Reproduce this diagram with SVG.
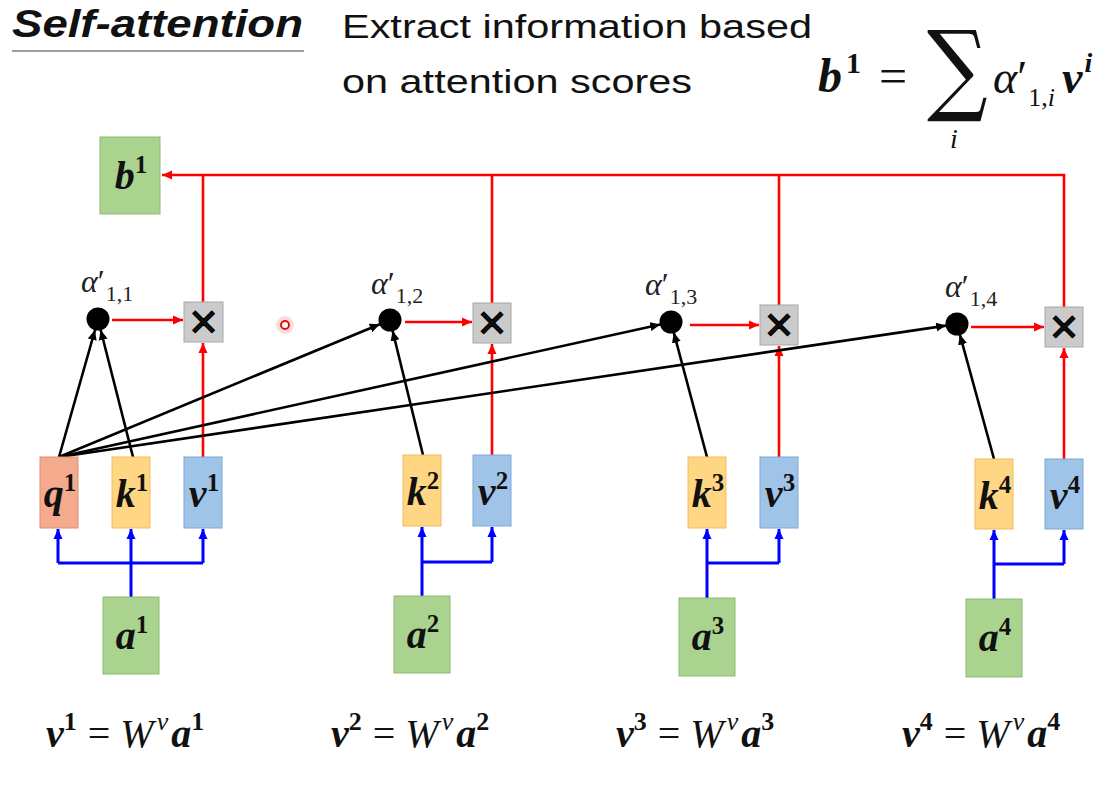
<svg xmlns="http://www.w3.org/2000/svg" width="1109" height="785" viewBox="0 0 1109 785">
<style>
text{font-family:"Liberation Serif","DejaVu Serif",serif;fill:#111}
.sans{font-family:"Liberation Sans","Open Sans",sans-serif}
.bi{font-weight:bold;font-style:italic}
.it{font-style:italic}
.n{font-style:normal}
.b{font-weight:bold;font-style:normal}
.lbl{font-size:40px;text-anchor:middle}
.sup{font-size:25px;font-weight:bold;font-style:normal}
.q{fill:#f4aa8c;stroke:#e08f70;stroke-width:1}
.k{fill:#ffd683;stroke:#f0bd58;stroke-width:1}
.v{fill:#a0c4e8;stroke:#7fa8d4;stroke-width:1}
.g{fill:#aad38f;stroke:#8cbc72;stroke-width:1}
.x{fill:#cbcbcb;stroke:#a8a8a8;stroke-width:1}
.red{stroke:#ff0000;stroke-width:2.6;fill:none}
.blk{stroke:#000;stroke-width:2.6;fill:none}
.blu{stroke:#0000ff;stroke-width:3;fill:none}
.mul{font-family:"Liberation Sans","DejaVu Sans",sans-serif;font-size:48px;text-anchor:middle;stroke:#000;stroke-width:1.3}
.al{font-size:32px;font-style:italic;fill:#222}
.als{font-size:22px;font-style:normal}
.eq{font-size:40px}
.es{font-size:26px;font-weight:bold;font-style:normal}
</style>
<defs>
<marker id="mr" markerWidth="11" markerHeight="10" refX="10" refY="5" orient="auto" markerUnits="userSpaceOnUse"><path d="M0,0.5 L10,5 L0,9.5 z" fill="#ff0000"/></marker>
<marker id="mk" markerWidth="11" markerHeight="10" refX="10" refY="5" orient="auto" markerUnits="userSpaceOnUse"><path d="M0,0.5 L10,5 L0,9.5 z" fill="#000"/></marker>
<marker id="mb" markerWidth="11" markerHeight="10" refX="10" refY="5" orient="auto" markerUnits="userSpaceOnUse"><path d="M0,0.5 L10,5 L0,9.5 z" fill="#0000ff"/></marker>
</defs>
<rect width="1109" height="785" fill="#fff"/>

<g id="title">
<text class="sans bi" x="12" y="37" font-size="38" textLength="291" lengthAdjust="spacingAndGlyphs">Self-attention</text>
<line x1="12" y1="51" x2="304" y2="51" stroke="#808080" stroke-width="1.6"/>
<text class="sans" x="342" y="38" font-size="33" textLength="470" lengthAdjust="spacingAndGlyphs">Extract information based</text>
<text class="sans" x="342" y="93" font-size="33" textLength="350" lengthAdjust="spacingAndGlyphs">on attention scores</text>
</g>

<g id="formula">
<text class="bi" x="818" y="92" font-size="48">b<tspan class="b" font-size="30" dx="4" dy="-19">1</tspan></text>
<text x="879" y="93" font-size="50">=</text>
<text transform="translate(927,102) scale(0.85,1)" font-size="100" style="font-family:'DejaVu Serif',serif">∑</text>
<text class="it" x="950" y="148" font-size="28">i</text>
<text class="it" x="993" y="93" font-size="46">α<tspan class="n">′</tspan><tspan class="n" font-size="26" dx="1" dy="13">1,<tspan class="it">i</tspan></tspan></text>
<text class="bi" x="1062" y="93" font-size="46">v<tspan font-size="28" dx="2" dy="-21">i</tspan></text>
</g>

<g id="connectors">
<path class="red" d="M1064,307 V175 H162" marker-end="url(#mr)"/>
<path class="red" d="M203,302 V175"/>
<path class="red" d="M492,303 V175"/>
<path class="red" d="M779,305 V175"/>
<line class="red" x1="112" y1="320" x2="183" y2="320" marker-end="url(#mr)"/>
<line class="red" x1="405" y1="322" x2="472" y2="322" marker-end="url(#mr)"/>
<line class="red" x1="690" y1="325" x2="759" y2="325" marker-end="url(#mr)"/>
<line class="red" x1="971" y1="327" x2="1044" y2="327" marker-end="url(#mr)"/>
<line class="red" x1="203" y1="457" x2="203" y2="343" marker-end="url(#mr)"/>
<line class="red" x1="492" y1="455" x2="492" y2="344" marker-end="url(#mr)"/>
<line class="red" x1="779" y1="457" x2="779" y2="346" marker-end="url(#mr)"/>
<line class="red" x1="1064" y1="459" x2="1064" y2="348" marker-end="url(#mr)"/>
<line class="blk" x1="59" y1="457" x2="95" y2="330" marker-end="url(#mk)"/>
<line class="blk" x1="133" y1="457" x2="100.7" y2="330" marker-end="url(#mk)"/>
<line class="blk" x1="59" y1="457" x2="379.8" y2="324.2" marker-end="url(#mk)"/>
<line class="blk" x1="59" y1="457" x2="660.3" y2="324.4" marker-end="url(#mk)"/>
<line class="blk" x1="59" y1="457" x2="946.1" y2="325.6" marker-end="url(#mk)"/>
<line class="blk" x1="423" y1="455" x2="392.6" y2="330.7" marker-end="url(#mk)"/>
<line class="blk" x1="707" y1="457" x2="673.8" y2="332.6" marker-end="url(#mk)"/>
<line class="blk" x1="994" y1="459" x2="959.9" y2="334.6" marker-end="url(#mk)"/>
<path class="blu" d="M58,563 H203"/>
<line class="blu" x1="58" y1="563" x2="58" y2="529" marker-end="url(#mb)"/>
<line class="blu" x1="131" y1="597" x2="131" y2="529" marker-end="url(#mb)"/>
<line class="blu" x1="203" y1="563" x2="203" y2="529" marker-end="url(#mb)"/>
<path class="blu" d="M422,562 H492"/>
<line class="blu" x1="422" y1="596" x2="422" y2="527" marker-end="url(#mb)"/>
<line class="blu" x1="492" y1="562" x2="492" y2="527" marker-end="url(#mb)"/>
<path class="blu" d="M707,563 H779"/>
<line class="blu" x1="707" y1="598" x2="707" y2="529" marker-end="url(#mb)"/>
<line class="blu" x1="779" y1="563" x2="779" y2="529" marker-end="url(#mb)"/>
<path class="blu" d="M994,564 H1064"/>
<line class="blu" x1="994" y1="599" x2="994" y2="530" marker-end="url(#mb)"/>
<line class="blu" x1="1064" y1="564" x2="1064" y2="530" marker-end="url(#mb)"/>
</g>

<g id="b1"><rect class="g" x="100" y="137" width="60" height="77"/><text class="bi lbl" x="131" y="189">b<tspan class="sup" dy="-16">1</tspan></text></g>

<g id="score1"><circle cx="98" cy="319" r="11.5" fill="#000"/><text class="al" x="81" y="292">α<tspan class="n">′</tspan><tspan class="als" dx="1" dy="9">1,1</tspan></text></g>
<g id="score2"><circle cx="390" cy="320" r="11.5" fill="#000"/><text class="al" x="371" y="294">α<tspan class="n">′</tspan><tspan class="als" dx="1" dy="9">1,2</tspan></text></g>
<g id="score3"><circle cx="671" cy="322" r="11.5" fill="#000"/><text class="al" x="645" y="295">α<tspan class="n">′</tspan><tspan class="als" dx="1" dy="9">1,3</tspan></text></g>
<g id="score4"><circle cx="957" cy="324" r="11.5" fill="#000"/><text class="al" x="945" y="297">α<tspan class="n">′</tspan><tspan class="als" dx="1" dy="9">1,4</tspan></text></g>

<g id="mul1"><rect class="x" x="184" y="302" width="39" height="40"/><text class="mul" x="203.5" y="338">×</text></g>
<g id="mul2"><rect class="x" x="473" y="303" width="38" height="40"/><text class="mul" x="492" y="339">×</text></g>
<g id="mul3"><rect class="x" x="760" y="305" width="38" height="40"/><text class="mul" x="779" y="341">×</text></g>
<g id="mul4"><rect class="x" x="1045" y="307" width="38" height="40"/><text class="mul" x="1064" y="343">×</text></g>

<g id="q1"><rect class="q" x="40" y="457" width="38" height="71"/><text class="bi lbl" x="60" y="507">q<tspan class="sup" dy="-16">1</tspan></text></g>
<g id="k1"><rect class="k" x="112" y="457" width="38" height="71"/><text class="bi lbl" x="132" y="507">k<tspan class="sup" dy="-16">1</tspan></text></g>
<g id="v1"><rect class="v" x="184" y="457" width="38" height="71"/><text class="bi lbl" x="204" y="507">v<tspan class="sup" dy="-16">1</tspan></text></g>
<g id="k2"><rect class="k" x="403" y="455" width="38" height="71"/><text class="bi lbl" x="423" y="505">k<tspan class="sup" dy="-16">2</tspan></text></g>
<g id="v2"><rect class="v" x="473" y="455" width="38" height="71"/><text class="bi lbl" x="493" y="505">v<tspan class="sup" dy="-16">2</tspan></text></g>
<g id="k3"><rect class="k" x="688" y="457" width="38" height="71"/><text class="bi lbl" x="708" y="507">k<tspan class="sup" dy="-16">3</tspan></text></g>
<g id="v3"><rect class="v" x="760" y="457" width="38" height="71"/><text class="bi lbl" x="780" y="507">v<tspan class="sup" dy="-16">3</tspan></text></g>
<g id="k4"><rect class="k" x="975" y="459" width="38" height="70"/><text class="bi lbl" x="995" y="509">k<tspan class="sup" dy="-16">4</tspan></text></g>
<g id="v4"><rect class="v" x="1045" y="459" width="38" height="70"/><text class="bi lbl" x="1065" y="509">v<tspan class="sup" dy="-16">4</tspan></text></g>

<g id="a1"><rect class="g" x="103" y="597" width="56" height="77"/><text class="bi lbl" x="132" y="649">a<tspan class="sup" dy="-16">1</tspan></text></g>
<g id="a2"><rect class="g" x="394" y="596" width="56" height="77"/><text class="bi lbl" x="423" y="648">a<tspan class="sup" dy="-16">2</tspan></text></g>
<g id="a3"><rect class="g" x="679" y="598" width="56" height="78"/><text class="bi lbl" x="708" y="650">a<tspan class="sup" dy="-16">3</tspan></text></g>
<g id="a4"><rect class="g" x="966" y="599" width="56" height="78"/><text class="bi lbl" x="995" y="651">a<tspan class="sup" dy="-16">4</tspan></text></g>

<g id="equations">
<text class="eq" x="46" y="747"><tspan class="bi">v</tspan><tspan class="es" dy="-17">1</tspan><tspan dy="17" dx="11">=</tspan><tspan class="it" dx="10">W</tspan><tspan class="it" font-size="26" dx="3" dy="-17">v</tspan><tspan class="bi" dy="17" dx="3">a</tspan><tspan class="es" dy="-17">1</tspan></text>
<text class="eq" x="331" y="747"><tspan class="bi">v</tspan><tspan class="es" dy="-17">2</tspan><tspan dy="17" dx="11">=</tspan><tspan class="it" dx="10">W</tspan><tspan class="it" font-size="26" dx="3" dy="-17">v</tspan><tspan class="bi" dy="17" dx="3">a</tspan><tspan class="es" dy="-17">2</tspan></text>
<text class="eq" x="616" y="747"><tspan class="bi">v</tspan><tspan class="es" dy="-17">3</tspan><tspan dy="17" dx="11">=</tspan><tspan class="it" dx="10">W</tspan><tspan class="it" font-size="26" dx="3" dy="-17">v</tspan><tspan class="bi" dy="17" dx="3">a</tspan><tspan class="es" dy="-17">3</tspan></text>
<text class="eq" x="902" y="747"><tspan class="bi">v</tspan><tspan class="es" dy="-17">4</tspan><tspan dy="17" dx="11">=</tspan><tspan class="it" dx="10">W</tspan><tspan class="it" font-size="26" dx="3" dy="-17">v</tspan><tspan class="bi" dy="17" dx="3">a</tspan><tspan class="es" dy="-17">4</tspan></text>
</g>

<g id="pointer"><circle cx="285" cy="325" r="9" fill="#ff8c8c" opacity="0.3"/><circle cx="285" cy="325" r="4" fill="#fff" stroke="#e01010" stroke-width="2"/></g>
</svg>
